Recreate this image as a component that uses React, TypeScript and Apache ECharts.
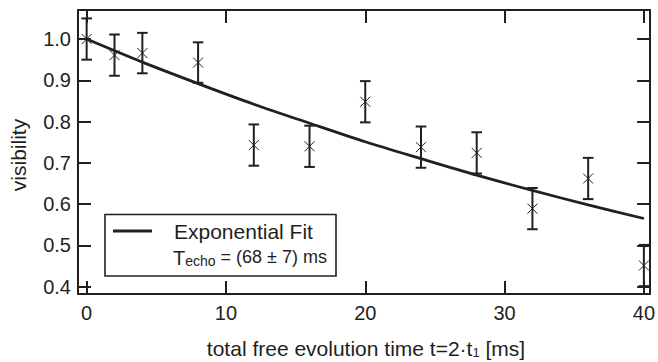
import React, { useEffect, useRef } from "react";
import * as echarts from "echarts";

// measured data: total free evolution time [ms], visibility, error
const times = [0, 2, 4, 8, 12, 16, 20, 24, 28, 32, 36, 40];
const visibility = [1.0, 0.961, 0.966, 0.943, 0.743, 0.74, 0.848, 0.738, 0.724, 0.589, 0.662, 0.451];
const errors = [0.05, 0.05, 0.049, 0.049, 0.05, 0.05, 0.05, 0.05, 0.05, 0.05, 0.05, 0.05];

// exponential fit curve
const fitTimes = [0, 4, 8, 12, 16, 20, 24, 28, 32, 36, 40];
const fitValues = [1.0, 0.944, 0.892, 0.842, 0.796, 0.751, 0.71, 0.67, 0.633, 0.598, 0.565];

// tick labels
const xTicks = [0, 10, 20, 30, 40];
const yTicks = [0.4, 0.5, 0.6, 0.7, 0.8, 0.9, 1.0];

const INK = "#231f20";
const FONT = "'Liberation Sans', Arial, Helvetica, sans-serif";

export default function App() {
  const ref = useRef<HTMLDivElement>(null);
  useEffect(() => {
    if (!ref.current) return;
    const chart = echarts.init(ref.current, null, { renderer: "svg" });
    const xMin = -0.62, xMax = 40.45, yMin = 0.382, yMax = 1.0704;
    const axisCommon = {
      type: "value" as const,
      splitLine: { show: false },
      axisLine: { show: true, onZero: false, lineStyle: { color: INK, width: 2 } },
    };
    const option: any = {
      animation: false,
      backgroundColor: "#ffffff",
      textStyle: { fontFamily: FONT, color: INK },
      grid: { left: 78, right: 5, top: 10, bottom: 68, containLabel: false },
      xAxis: [
        {
          ...axisCommon,
          position: "bottom",
          min: xMin,
          max: xMax,
          axisTick: { show: true, inside: true, length: 13, customValues: xTicks, lineStyle: { color: INK, width: 2 } },
          axisLabel: {
            show: true,
            customValues: xTicks,
            fontSize: 20,
            fontFamily: FONT,
            color: INK,
            margin: 9,
            formatter: (v: number) => String(Math.round(v)),
          },
        },
        {
          ...axisCommon,
          position: "top",
          min: xMin,
          max: xMax,
          axisTick: { show: true, inside: true, length: 13, customValues: xTicks, lineStyle: { color: INK, width: 2 } },
          axisLabel: { show: false },
        },
      ],
      yAxis: [
        {
          ...axisCommon,
          position: "left",
          min: yMin,
          max: yMax,
          axisTick: { show: true, inside: true, length: 13, customValues: yTicks, lineStyle: { color: INK, width: 2 } },
          axisLabel: {
            show: true,
            customValues: yTicks,
            fontSize: 20,
            fontFamily: FONT,
            color: INK,
            margin: 7,
            formatter: (v: number) => Number(v).toFixed(1),
          },
        },
        {
          ...axisCommon,
          position: "right",
          min: yMin,
          max: yMax,
          axisTick: { show: true, inside: true, length: 13, customValues: yTicks, lineStyle: { color: INK, width: 2 } },
          axisLabel: { show: false },
        },
      ],
      series: [
        {
          type: "line",
          xAxisIndex: 0,
          yAxisIndex: 0,
          data: fitTimes.map((t, i) => [t, fitValues[i]]),
          showSymbol: false,
          smooth: 0.3,
          lineStyle: { color: INK, width: 2.8 },
          z: 3,
        },
        {
          type: "custom",
          xAxisIndex: 0,
          yAxisIndex: 0,
          data: times.map((t, i) => [t, visibility[i], errors[i]]),
          z: 4,
          renderItem: (params: any, api: any) => {
            const x = api.value(0);
            const y = api.value(1);
            const e = api.value(2);
            const c = api.coord([x, y]);
            const top = api.coord([x, y + e]);
            const bot = api.coord([x, y - e]);
            const cw = 5.3;
            const m = 5;
            const barStyle = { stroke: INK, lineWidth: 2 };
            const markStyle = { stroke: INK, lineWidth: 1 };
            return {
              type: "group",
              children: [
                { type: "line", shape: { x1: top[0], y1: top[1], x2: bot[0], y2: bot[1] }, style: barStyle },
                { type: "line", shape: { x1: top[0] - cw, y1: top[1], x2: top[0] + cw, y2: top[1] }, style: barStyle },
                { type: "line", shape: { x1: bot[0] - cw, y1: bot[1], x2: bot[0] + cw, y2: bot[1] }, style: barStyle },
                { type: "line", shape: { x1: c[0] - m, y1: c[1] - m, x2: c[0] + m, y2: c[1] + m }, style: markStyle },
                { type: "line", shape: { x1: c[0] - m, y1: c[1] + m, x2: c[0] + m, y2: c[1] - m }, style: markStyle },
              ],
            };
          },
        },
      ],
      graphic: [
        {
          type: "text",
          x: 366,
          y: 348,
          style: {
            text: "total free evolution time t=2·t{s|1} [ms]",
            fontSize: 21,
            fontFamily: FONT,
            fill: INK,
            align: "center",
            verticalAlign: "middle",
            rich: {
              s: { fontSize: 13, fontFamily: FONT, fill: INK, lineHeight: 8, verticalAlign: "bottom" },
            },
          },
        },
        {
          type: "text",
          x: 18,
          y: 155,
          rotation: Math.PI / 2,
          style: {
            text: "visibility",
            fontSize: 21,
            fontFamily: FONT,
            fill: INK,
            align: "center",
            verticalAlign: "middle",
          },
        },
        {
          type: "rect",
          shape: { x: 105, y: 214.5, width: 231, height: 61.5 },
          style: { fill: "#ffffff", stroke: INK, lineWidth: 1.6 },
          z: 10,
        },
        {
          type: "line",
          shape: { x1: 113, y1: 231, x2: 152, y2: 231 },
          style: { stroke: INK, lineWidth: 2.8 },
          z: 11,
        },
        {
          type: "text",
          x: 174,
          y: 231,
          style: {
            text: "Exponential Fit",
            fontSize: 21,
            fontFamily: FONT,
            fill: INK,
            align: "left",
            verticalAlign: "middle",
          },
          z: 11,
        },
        {
          type: "text",
          x: 173,
          y: 258,
          style: {
            text: "{t|T}{s|echo}{a| = (68 ± 7) ms}",
            fontFamily: FONT,
            fill: INK,
            align: "left",
            verticalAlign: "middle",
            rich: {
              t: { fontSize: 20, fontFamily: FONT, fill: INK, lineHeight: 20, verticalAlign: "top" },
              a: { fontSize: 18, fontFamily: FONT, fill: INK, lineHeight: 20, verticalAlign: "top" },
              s: { fontSize: 14, fontFamily: FONT, fill: INK, lineHeight: 5, verticalAlign: "bottom" },
            },
          },
          z: 11,
        },
      ],
    };
    chart.setOption(option);
    return () => chart.dispose();
  }, []);
  return (
    <div
      ref={ref}
      style={{ position: "absolute", left: 0, top: 0, width: 658, height: 362 }}
    />
  );
}
